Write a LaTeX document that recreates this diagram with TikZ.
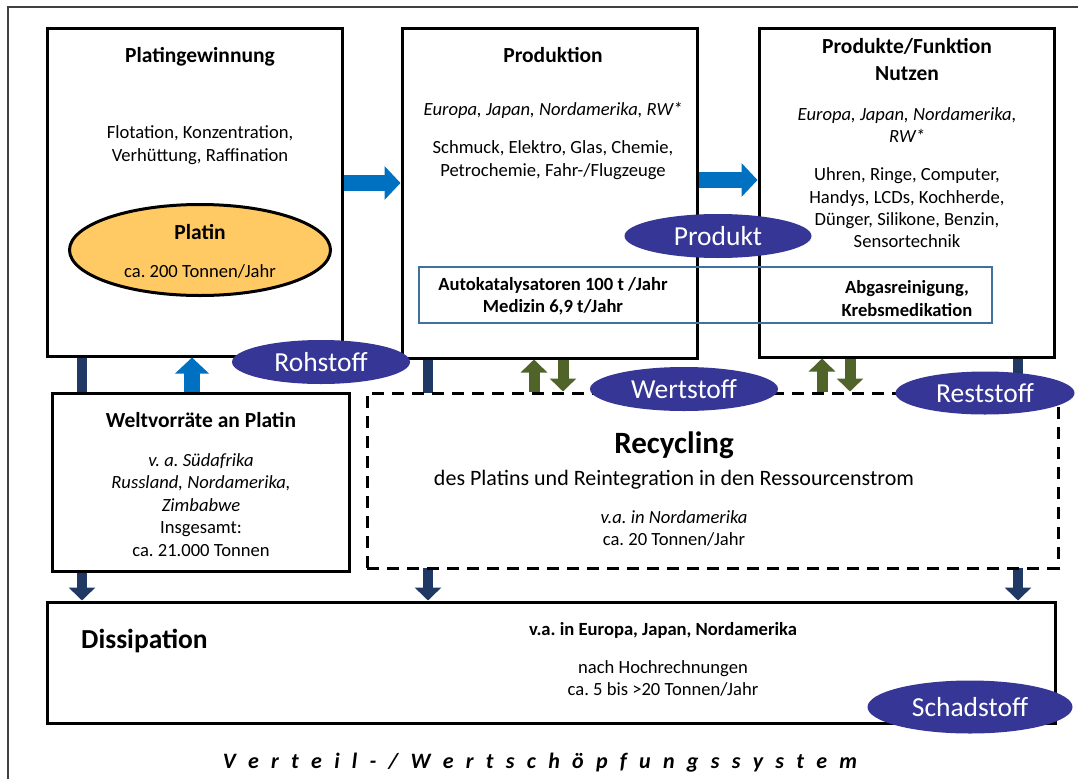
\documentclass[tikz,border=0pt]{standalone}
\usepackage{fontspec}
\setmainfont{Carlito}
\usetikzlibrary{arrows.meta,shapes.geometric}
\definecolor{arrblue}{RGB}{0,112,192}
\definecolor{navyc}{RGB}{31,56,100}
\definecolor{grn}{RGB}{80,99,40}
\definecolor{indig}{RGB}{54,54,150}
\definecolor{platfill}{RGB}{255,202,100}
\definecolor{boxblue}{RGB}{65,113,156}
\pgfdeclarelayer{bg}
\pgfsetlayers{bg,main}
\frenchspacing
\tikzset{
  bigbox/.style={draw=black, line width=3pt, fill=white, inner sep=0pt},
  lbl/.style={ellipse, fill=indig, text=white, inner sep=0pt, font=\fontsize{27.5}{30}\selectfont},
  bodytxt/.style={anchor=base, inner sep=0pt, font=\fontsize{18.6}{22}\selectfont},
  ittxt/.style={anchor=base, inner sep=0pt, font=\itshape\fontsize{18.6}{22}\selectfont},
  boldtxt/.style={anchor=base, inner sep=0pt, font=\bfseries\fontsize{18.6}{22}\selectfont},
  headtxt/.style={anchor=base, inner sep=0pt, font=\bfseries\fontsize{21.5}{24}\selectfont},
  bluearr/.style={draw=arrblue, line width=16pt, -{Triangle[width=33pt,length=16pt]}},
  navyarr/.style={draw=navyc, line width=10pt, -{Triangle[width=26pt,length=13pt]}},
  greenarr/.style={draw=grn, line width=11pt, -{Triangle[width=26pt,length=13pt]}},
}
\begin{document}
\begin{tikzpicture}[x=1pt,y=-1pt]
\useasboundingbox (0,0) rectangle (1078,779);
\draw[line width=1.3pt, black!75] (8,779) -- (8,7) -- (1078,7);

% main boxes
\node[bigbox, minimum width=295pt, minimum height=328pt] (plat) at (194.5,192) {};
\node[bigbox, minimum width=295pt, minimum height=330pt] (prod) at (549.5,193) {};
\node[bigbox, minimum width=295pt, minimum height=329pt] (prodk) at (906.5,192.5) {};
\node[bigbox, minimum width=297pt, minimum height=178pt] (welt) at (200.5,482) {};
\node[draw=black, line width=3pt, fill=white, inner sep=0pt, dash pattern=on 12pt off 8pt,
      minimum width=691pt, minimum height=175pt] (recyc) at (712.5,480.5) {};
\node[bigbox, minimum width=1008pt, minimum height=121pt] (dissip) at (551,662.5) {};
\node[draw=boxblue, line width=2.5pt, inner sep=0pt, minimum width=573pt, minimum height=56pt] (auto) at (705.5,295) {};

% navy flows behind boxes
\begin{pgfonlayer}{bg}
\draw[navyarr] (plat.south -| 82,0) -- (dissip.north -| 82,0);
\draw[navyarr] (prod.south -| 428,0) -- (dissip.north -| 428,0);
\draw[navyarr] (prodk.south -| 1018,0) -- (dissip.north -| 1018,0);
\end{pgfonlayer}

% blue arrows
\draw[bluearr] (plat.east |- 0,183) -- (prod.west |- 0,183);
\draw[bluearr] (prod.east |- 0,180) -- (prodk.west |- 0,180);
\draw[bluearr] (welt.north -| 192,0) -- (plat.south -| 192,0);

% green arrows
\draw[greenarr] (recyc.north -| 534,0) -- (prod.south -| 534,0);
\draw[greenarr] (prod.south -| 563,0) -- (recyc.north -| 563,0);
\draw[greenarr] (recyc.north -| 822,0) -- (prodk.south -| 822,0);
\draw[greenarr] (prodk.south -| 850,0) -- (recyc.north -| 850,0);

% Platingewinnung
\node[headtxt] (t1) at (200,62) {Platingewinnung};
\node[bodytxt] (t2) at (200,138) {Flotation, Konzentration,};
\node[bodytxt] (t3) at (200,161) {Verhüttung, Raffination};
\node[ellipse, draw=black, line width=3pt, fill=platfill, minimum width=261pt, minimum height=91pt, inner sep=0pt] (platin) at (200,250) {};
\node[headtxt] (t4) at (200,239) {Platin};
\node[bodytxt] (t5) at (200,277) {ca. 200 Tonnen/Jahr};

% Produktion
\node[headtxt] (t6) at (553,62) {Produktion};
\node[ittxt] (t7) at (553,115) {Europa, Japan, Nordamerika, RW*};
\node[bodytxt] (t8) at (553,153) {Schmuck, Elektro, Glas, Chemie,};
\node[bodytxt] (t9) at (553,176) {Petrochemie, Fahr-/Flugzeuge};
\node[boldtxt] (t10) at (553,290) {Autokatalysatoren 100 t /Jahr};
\node[boldtxt] (t11) at (553,312) {Medizin 6,9 t/Jahr};

% Produkte
\node[headtxt] (t12) at (907,53) {Produkte/Funktion};
\node[headtxt] (t13) at (907,80) {Nutzen};
\node[ittxt] (t14) at (907,120) {Europa, Japan, Nordamerika,};
\node[ittxt] (t15) at (907,142) {RW*};
\node[bodytxt] (t16) at (907,180) {Uhren, Ringe, Computer,};
\node[bodytxt] (t17) at (907,203) {Handys, LCDs, Kochherde,};
\node[bodytxt] (t18) at (907,225) {Dünger, Silikone, Benzin,};
\node[bodytxt] (t19) at (907,247) {Sensortechnik};
\node[boldtxt] (t20) at (907,293) {Abgasreinigung,};
\node[boldtxt] (t21) at (907,316) {Krebsmedikation};

% Weltvorraete
\node[headtxt] (t22) at (201,427) {Weltvorräte an Platin};
\node[ittxt] (t23) at (201,466) {v. a. Südafrika};
\node[ittxt] (t24) at (201,488) {Russland, Nordamerika,};
\node[ittxt] (t25) at (201,511) {Zimbabwe};
\node[bodytxt] (t26) at (201,533) {Insgesamt:};
\node[bodytxt] (t27) at (201,556) {ca. 21.000 Tonnen};

% Recycling
\node[anchor=base, inner sep=0pt, font=\bfseries\fontsize{31}{34}\selectfont] (t28) at (674,453) {Recycling};
\node[anchor=base, inner sep=0pt, font=\fontsize{22}{26}\selectfont] (t29) at (674,485) {des Platins und Reintegration in den Ressourcenstrom};
\node[ittxt] (t30) at (674,523) {v.a. in Nordamerika};
\node[bodytxt] (t31) at (674,545) {ca. 20 Tonnen/Jahr};

% Dissipation
\node[anchor=base west, inner sep=0pt, font=\bfseries\fontsize{27.5}{30}\selectfont] (t32) at (81,648) {Dissipation};
\node[boldtxt] (t33) at (663,635) {v.a. in Europa, Japan, Nordamerika};
\node[bodytxt] (t34) at (663,673) {nach Hochrechnungen};
\node[bodytxt] (t35) at (663,695) {ca. 5 bis >20 Tonnen/Jahr};

% labels
\node[lbl, minimum width=178pt, minimum height=44pt] (roh) at (321,362) {Rohstoff};
\node[lbl, minimum width=187pt, minimum height=44pt] (pk) at (718,236) {Produkt};
\node[lbl, minimum width=188pt, minimum height=44pt] (wert) at (684,389) {Wertstoff};
\node[lbl, minimum width=179pt, minimum height=43pt] (rest) at (985,393) {Reststoff};
\node[lbl, minimum width=205pt, minimum height=53pt] (schad) at (970,707) {Schadstoff};

% title
\node[anchor=base, inner sep=0pt, font=\bfseries\itshape\fontsize{22}{26}\selectfont] (title) at (540,768)
  {\spaceskip=12.3pt\relax V e r t e i l - / W e r t s c h ö p f u n g s s y s t e m};
\end{tikzpicture}
\end{document}
